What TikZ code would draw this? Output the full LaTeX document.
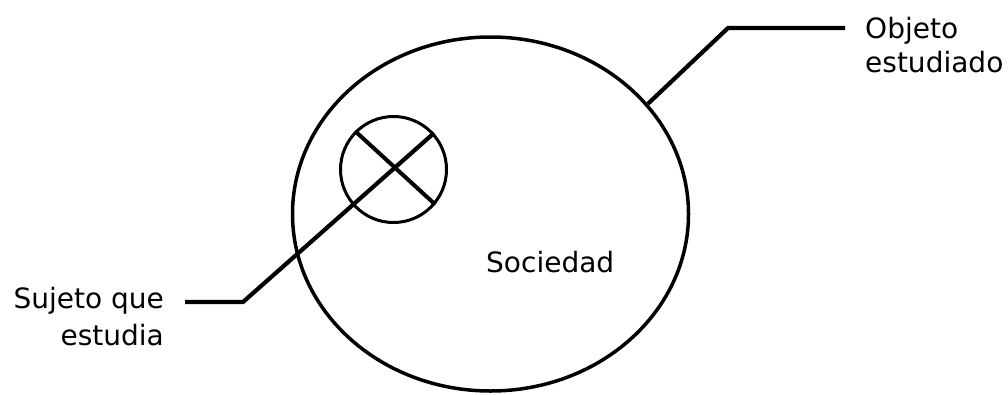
\documentclass[tikz,border=0pt]{standalone}
\usepackage{fontspec}
\setmainfont{DejaVu Sans}
\usetikzlibrary{shapes.geometric}
\begin{document}
\begin{tikzpicture}[x=1pt,y=-1pt,
  lbl/.style={inner sep=0pt, font=\fontsize{28}{34}\selectfont},
  bigell/.style={ellipse, draw, line width=3.5pt, inner sep=0pt, minimum width=396pt, minimum height=354pt},
  smallcirc/.style={circle, draw, line width=3pt, inner sep=0pt, minimum size=106pt},
  leader/.style={line width=4.2pt},
  crossline/.style={line width=4pt}]
\useasboundingbox (0,0) rectangle (1008,394);
% main shapes
\node[bigell] (soc) at (490.5,214) {};
\node[smallcirc] (suj) at (393.5,169.5) {};
% labels
\node[lbl, anchor=base west] (soctxt) at (486,272) {Sociedad};
\node[lbl, anchor=base west] (obj1) at (865,38) {Objeto};
\node[lbl, anchor=base west] (obj2) at (865,72) {estudiado};
\node[lbl, anchor=base east] (suj1) at (164,308) {Sujeto que};
\node[lbl, anchor=base east] (suj2) at (164,345) {estudia};
% connector coordinates
\coordinate (ocorner) at (728,28);
\coordinate (oend) at (845,28);
\coordinate (scorner) at (243,302);
\coordinate (send) at (185,302);
% cross
\draw[crossline] (suj.135) -- (suj.-40);
% leaders
\draw[leader] (suj.42) -- (scorner) -- (send);
\draw[leader] (soc.35) -- (ocorner) -- (oend);
\end{tikzpicture}
\end{document}
